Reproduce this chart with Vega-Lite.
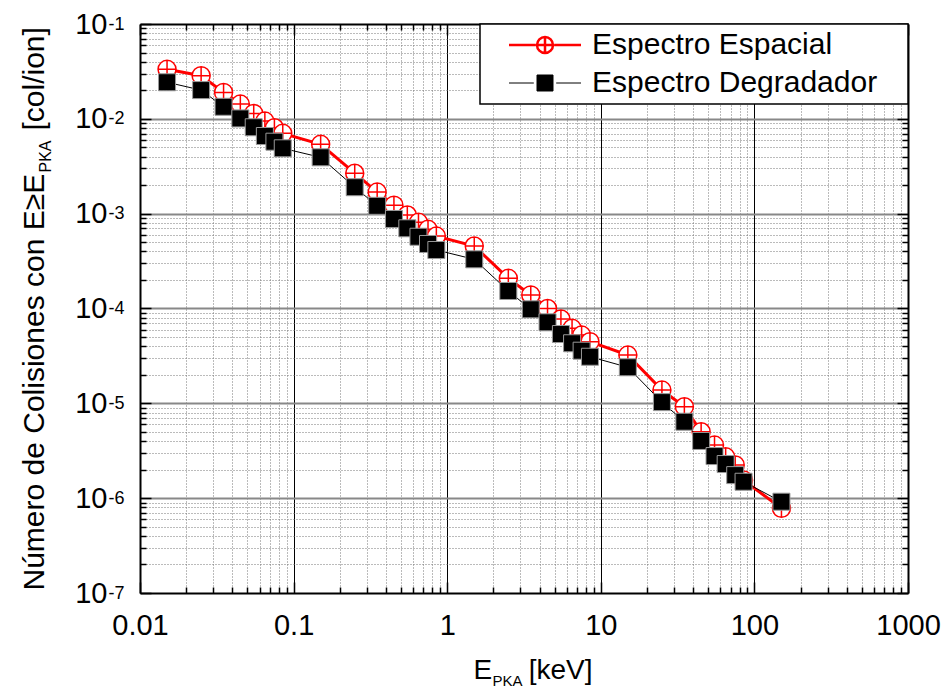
{
  "$schema": "https://vega.github.io/schema/vega-lite/v6.json",
  "width": 768,
  "height": 569,
  "autosize": {"type": "none"},
  "padding": {"left": 140, "top": 24, "right": 38, "bottom": 102},
  "background": "white",
  "config": {
    "font": "Liberation Sans",
    "view": {"stroke": null},
    "axis": {"titleFontWeight": "normal", "labelColor": "black", "titleColor": "black", "labelFont": "Liberation Sans", "titleFont": "Liberation Sans"}
  },
  "data": {
    "values": [
      {"e": 0.015, "n": 3.33e-2, "s": "Espectro Espacial"},
      {"e": 0.025, "n": 2.85e-2, "s": "Espectro Espacial"},
      {"e": 0.035, "n": 1.90e-2, "s": "Espectro Espacial"},
      {"e": 0.045, "n": 1.43e-2, "s": "Espectro Espacial"},
      {"e": 0.055, "n": 1.14e-2, "s": "Espectro Espacial"},
      {"e": 0.065, "n": 9.48e-3, "s": "Espectro Espacial"},
      {"e": 0.075, "n": 8.06e-3, "s": "Espectro Espacial"},
      {"e": 0.085, "n": 7.03e-3, "s": "Espectro Espacial"},
      {"e": 0.15, "n": 5.38e-3, "s": "Espectro Espacial"},
      {"e": 0.25, "n": 2.67e-3, "s": "Espectro Espacial"},
      {"e": 0.35, "n": 1.69e-3, "s": "Espectro Espacial"},
      {"e": 0.45, "n": 1.23e-3, "s": "Espectro Espacial"},
      {"e": 0.55, "n": 9.68e-4, "s": "Espectro Espacial"},
      {"e": 0.65, "n": 8.11e-4, "s": "Espectro Espacial"},
      {"e": 0.75, "n": 6.83e-4, "s": "Espectro Espacial"},
      {"e": 0.85, "n": 5.80e-4, "s": "Espectro Espacial"},
      {"e": 1.5, "n": 4.56e-4, "s": "Espectro Espacial"},
      {"e": 2.5, "n": 2.08e-4, "s": "Espectro Espacial"},
      {"e": 3.5, "n": 1.39e-4, "s": "Espectro Espacial"},
      {"e": 4.5, "n": 1.00e-4, "s": "Espectro Espacial"},
      {"e": 5.5, "n": 7.75e-5, "s": "Espectro Espacial"},
      {"e": 6.5, "n": 6.18e-5, "s": "Espectro Espacial"},
      {"e": 7.5, "n": 5.25e-5, "s": "Espectro Espacial"},
      {"e": 8.5, "n": 4.47e-5, "s": "Espectro Espacial"},
      {"e": 15, "n": 3.23e-5, "s": "Espectro Espacial"},
      {"e": 25, "n": 1.38e-5, "s": "Espectro Espacial"},
      {"e": 35, "n": 9.2e-6, "s": "Espectro Espacial"},
      {"e": 45, "n": 5.02e-6, "s": "Espectro Espacial"},
      {"e": 55, "n": 3.63e-6, "s": "Espectro Espacial"},
      {"e": 65, "n": 2.73e-6, "s": "Espectro Espacial"},
      {"e": 75, "n": 2.24e-6, "s": "Espectro Espacial"},
      {"e": 85, "n": 1.55e-6, "s": "Espectro Espacial"},
      {"e": 150, "n": 7.82e-7, "s": "Espectro Espacial"},
      {"e": 0.015, "n": 2.43e-2, "s": "Espectro Degradador"},
      {"e": 0.025, "n": 2.01e-2, "s": "Espectro Degradador"},
      {"e": 0.035, "n": 1.34e-2, "s": "Espectro Degradador"},
      {"e": 0.045, "n": 1.01e-2, "s": "Espectro Degradador"},
      {"e": 0.055, "n": 8.15e-3, "s": "Espectro Degradador"},
      {"e": 0.065, "n": 6.59e-3, "s": "Espectro Degradador"},
      {"e": 0.075, "n": 5.74e-3, "s": "Espectro Degradador"},
      {"e": 0.085, "n": 4.89e-3, "s": "Espectro Degradador"},
      {"e": 0.15, "n": 3.93e-3, "s": "Espectro Degradador"},
      {"e": 0.25, "n": 1.90e-3, "s": "Espectro Degradador"},
      {"e": 0.35, "n": 1.21e-3, "s": "Espectro Degradador"},
      {"e": 0.45, "n": 8.79e-4, "s": "Espectro Degradador"},
      {"e": 0.55, "n": 7.01e-4, "s": "Espectro Degradador"},
      {"e": 0.65, "n": 5.71e-4, "s": "Espectro Degradador"},
      {"e": 0.75, "n": 4.79e-4, "s": "Espectro Degradador"},
      {"e": 0.85, "n": 4.14e-4, "s": "Espectro Degradador"},
      {"e": 1.5, "n": 3.30e-4, "s": "Espectro Degradador"},
      {"e": 2.5, "n": 1.53e-4, "s": "Espectro Degradador"},
      {"e": 3.5, "n": 9.8e-5, "s": "Espectro Degradador"},
      {"e": 4.5, "n": 7.15e-5, "s": "Espectro Degradador"},
      {"e": 5.5, "n": 5.38e-5, "s": "Espectro Degradador"},
      {"e": 6.5, "n": 4.30e-5, "s": "Espectro Degradador"},
      {"e": 7.5, "n": 3.59e-5, "s": "Espectro Degradador"},
      {"e": 8.5, "n": 3.10e-5, "s": "Espectro Degradador"},
      {"e": 15, "n": 2.40e-5, "s": "Espectro Degradador"},
      {"e": 25, "n": 1.03e-5, "s": "Espectro Degradador"},
      {"e": 35, "n": 6.40e-6, "s": "Espectro Degradador"},
      {"e": 45, "n": 4.01e-6, "s": "Espectro Degradador"},
      {"e": 55, "n": 2.78e-6, "s": "Espectro Degradador"},
      {"e": 65, "n": 2.29e-6, "s": "Espectro Degradador"},
      {"e": 75, "n": 1.75e-6, "s": "Espectro Degradador"},
      {"e": 85, "n": 1.49e-6, "s": "Espectro Degradador"},
      {"e": 150, "n": 9.18e-7, "s": "Espectro Degradador"}
    ]
  },
  "resolve": {"axis": {"x": "independent", "y": "independent"}},
  "layer": [
    {
      "mark": {"type": "point", "filled": true, "opacity": 0, "size": 10},
      "encoding": {
        "x": {"field": "e", "type": "quantitative", "scale": {"type": "log", "domain": [0.01, 1000], "nice": false}, "axis": null},
        "y": {"field": "n", "type": "quantitative", "scale": {"type": "log", "domain": [1e-7, 0.1], "nice": false}, "axis": null},
        "fill": {"field": "s", "type": "nominal", "scale": {"domain": ["Espectro Espacial", "Espectro Degradador"], "range": ["white", "black"]},
          "legend": {"title": ".", "titleOrient": "right", "titleOpacity": 0, "titleFontSize": 10, "titlePadding": 22, "orient": "top-right", "offset": 0, "padding": 6, "symbolOffset": 44, "labelOffset": 32, "labelFontSize": 30, "labelFont": "Liberation Sans", "labelColor": "black", "rowPadding": 8, "symbolSize": 256, "strokeColor": "black", "fillColor": "white", "symbolOpacity": 1, "labelLimit": 500,
            "encode": {"symbols": {"update": {"strokeWidth": {"signal": "datum.value === 'Espectro Espacial' ? 2.5 : 1"}, "opacity": {"value": 1}}}, "legend": {"update": {"strokeWidth": {"value": 1.5}}}}}},
        "stroke": {"field": "s", "type": "nominal", "scale": {"domain": ["Espectro Espacial", "Espectro Degradador"], "range": ["red", "black"]}},
        "shape": {"field": "s", "type": "nominal", "scale": {"domain": ["Espectro Espacial", "Espectro Degradador"], "range": ["M-4.5,0H-1.15M1.15,0H4.5M-1,0A1,1,0,1,0,1,0A1,1,0,1,0,-1,0ZM-1,0H1M0,-1V1", "M-4.5,0H-1.4M1.4,0H4.5M-1,-1H1V1H-1Z"]}}
      }
    },
    {
      "transform": [{"filter": "datum.s === 'Espectro Espacial'"}],
      "mark": {"type": "line", "color": "red", "strokeWidth": 3},
      "encoding": {
        "x": {"field": "e", "type": "quantitative", "scale": {"type": "log", "domain": [0.01, 1000], "nice": false},
          "axis": {
            "orient": "bottom",
            "values": [0.01,0.02,0.03,0.04,0.05,0.06,0.07,0.08,0.09,0.1,0.2,0.3,0.4,0.5,0.6,0.7,0.8,0.9,1,2,3,4,5,6,7,8,9,10,20,30,40,50,60,70,80,90,100,200,300,400,500,600,700,800,900,1000],
            "tickSize": {"condition": {"test": "abs(log(datum.value)/LN10 - round(log(datum.value)/LN10)) < 0.001", "value": -11}, "value": -6},
            "tickColor": "black", "tickWidth": 1.5,
            "labelExpr": "abs(log(datum.value)/LN10 - round(log(datum.value)/LN10)) < 0.001 ? format(datum.value, '~g') : ''",
            "labelFontSize": 29, "labelPadding": 29, "labelOverlap": false, "labelFlush": false, "labelBound": false,
            "grid": true,
            "gridColor": {"condition": {"test": "abs(log(datum.value)/LN10 - round(log(datum.value)/LN10)) < 0.001", "value": "black"}, "value": "#777"},
            "gridDash": {"condition": {"test": "abs(log(datum.value)/LN10 - round(log(datum.value)/LN10)) < 0.001", "value": []}, "value": [1, 2]},
            "gridWidth": 1,
            "gridOpacity": {"condition": {"test": "datum.value < 0.0101 || datum.value > 999", "value": 0}, "value": 1},
            "domainColor": "black", "domainWidth": 2,
            "title": "E", "titleFontSize": 28, "titleX": 333, "titleY": 85, "titleAlign": "left", "titleBaseline": "alphabetic", "titleAngle": 0
          }},
        "y": {"field": "n", "type": "quantitative", "scale": {"type": "log", "domain": [1e-7, 0.1], "nice": false},
          "axis": {
            "orient": "left",
            "values": [1e-7,2e-7,3e-7,4e-7,5e-7,6e-7,7e-7,8e-7,9e-7,1e-6,2e-6,3e-6,4e-6,5e-6,6e-6,7e-6,8e-6,9e-6,1e-5,2e-5,3e-5,4e-5,5e-5,6e-5,7e-5,8e-5,9e-5,1e-4,2e-4,3e-4,4e-4,5e-4,6e-4,7e-4,8e-4,9e-4,0.001,0.002,0.003,0.004,0.005,0.006,0.007,0.008,0.009,0.01,0.02,0.03,0.04,0.05,0.06,0.07,0.08,0.09,0.1],
            "tickSize": {"condition": {"test": "abs(log(datum.value)/LN10 - round(log(datum.value)/LN10)) < 0.001", "value": -11}, "value": -6},
            "tickColor": "black", "tickWidth": 1.5,
            "labelExpr": "abs(log(datum.value)/LN10 - round(log(datum.value)/LN10)) < 0.001 ? '10' : ''",
            "labelFontSize": 29, "labelPadding": 44, "labelAlign": "right", "labelBaseline": "middle", "labelDy": 1, "labelOverlap": false, "labelFlush": false, "labelBound": false,
            "grid": true,
            "gridColor": {"condition": {"test": "abs(log(datum.value)/LN10 - round(log(datum.value)/LN10)) < 0.001", "value": "#888"}, "value": "#777"},
            "gridDash": {"condition": {"test": "abs(log(datum.value)/LN10 - round(log(datum.value)/LN10)) < 0.001", "value": []}, "value": [1, 2]},
            "gridWidth": {"condition": {"test": "abs(log(datum.value)/LN10 - round(log(datum.value)/LN10)) < 0.001", "value": 2}, "value": 1},
            "gridOpacity": {"condition": {"test": "datum.value < 1.01e-7 || datum.value > 0.099", "value": 0}, "value": 1},
            "domainColor": "black", "domainWidth": 2,
            "title": "Número de Colisiones con E≥E", "titleFontSize": 30, "titleX": -97, "titleY": 566, "titleAngle": 270, "titleAlign": "left", "titleBaseline": "alphabetic"
          }}
      }
    },
    {
      "transform": [{"filter": "datum.s === 'Espectro Espacial'"}],
      "mark": {"type": "point", "filled": true, "shape": "M-1,0A1,1,0,1,0,1,0A1,1,0,1,0,-1,0ZM-1,0H1M0,-1V1", "size": 324, "fill": "white", "stroke": "red", "strokeWidth": 1.5, "opacity": 1},
      "encoding": {
        "x": {"field": "e", "type": "quantitative", "scale": {"type": "log", "domain": [0.01, 1000], "nice": false},
          "axis": {
            "orient": "top",
            "values": [0.01,0.02,0.03,0.04,0.05,0.06,0.07,0.08,0.09,0.1,0.2,0.3,0.4,0.5,0.6,0.7,0.8,0.9,1,2,3,4,5,6,7,8,9,10,20,30,40,50,60,70,80,90,100,200,300,400,500,600,700,800,900,1000],
            "tickSize": {"condition": {"test": "abs(log(datum.value)/LN10 - round(log(datum.value)/LN10)) < 0.001", "value": -11}, "value": -6},
            "tickColor": "black", "tickWidth": 1.5,
            "labels": false, "grid": false,
            "domainColor": "black", "domainWidth": 2,
            "title": "PKA", "titleFontSize": 15, "titleX": 352, "titleY": 661, "titleAlign": "left", "titleBaseline": "alphabetic", "titleAngle": 0
          }},
        "y": {"field": "n", "type": "quantitative", "scale": {"type": "log", "domain": [1e-7, 0.1], "nice": false},
          "axis": {
            "orient": "right",
            "values": [1e-7,2e-7,3e-7,4e-7,5e-7,6e-7,7e-7,8e-7,9e-7,1e-6,2e-6,3e-6,4e-6,5e-6,6e-6,7e-6,8e-6,9e-6,1e-5,2e-5,3e-5,4e-5,5e-5,6e-5,7e-5,8e-5,9e-5,1e-4,2e-4,3e-4,4e-4,5e-4,6e-4,7e-4,8e-4,9e-4,0.001,0.002,0.003,0.004,0.005,0.006,0.007,0.008,0.009,0.01,0.02,0.03,0.04,0.05,0.06,0.07,0.08,0.09,0.1],
            "tickSize": {"condition": {"test": "abs(log(datum.value)/LN10 - round(log(datum.value)/LN10)) < 0.001", "value": -11}, "value": -6},
            "tickColor": "black", "tickWidth": 1.5,
            "labels": false, "grid": false,
            "domainColor": "black", "domainWidth": 2,
            "title": null
          }}
      }
    },
    {
      "transform": [{"filter": "datum.s === 'Espectro Degradador'"}],
      "mark": {"type": "line", "color": "black", "strokeWidth": 1},
      "encoding": {
        "x": {"field": "e", "type": "quantitative", "scale": {"type": "log", "domain": [0.01, 1000], "nice": false},
          "axis": {
            "orient": "bottom", "ticks": false, "labels": false, "grid": false, "domain": false,
            "title": "[keV]", "titleFontSize": 28, "titleX": 452, "titleY": 85, "titleAlign": "right", "titleBaseline": "alphabetic", "titleAngle": 0
          }},
        "y": {"field": "n", "type": "quantitative", "scale": {"type": "log", "domain": [1e-7, 0.1], "nice": false},
          "axis": {
            "orient": "left",
            "values": [1e-7, 1e-6, 1e-5, 1e-4, 0.001, 0.01, 0.1],
            "ticks": false, "grid": false, "domain": false,
            "labelExpr": "'' + round(log(datum.value)/LN10)",
            "labelFontSize": 18, "labelPadding": 32, "labelAlign": "left", "labelBaseline": "middle", "labelDy": -13, "labelOverlap": false, "labelFlush": false, "labelBound": false,
            "title": "PKA", "titleFontSize": 16, "titleX": -90, "titleY": 148, "titleAngle": 270, "titleAlign": "left", "titleBaseline": "alphabetic"
          }}
      }
    },
    {
      "transform": [{"filter": "datum.s === 'Espectro Degradador'"}],
      "mark": {"type": "point", "filled": true, "shape": "square", "size": 289, "fill": "black", "stroke": "#999", "strokeWidth": 1, "opacity": 1},
      "encoding": {
        "x": {"field": "e", "type": "quantitative", "scale": {"type": "log", "domain": [0.01, 1000], "nice": false}, "axis": null},
        "y": {"field": "n", "type": "quantitative", "scale": {"type": "log", "domain": [1e-7, 0.1], "nice": false},
          "axis": {
            "orient": "left", "ticks": false, "labels": false, "grid": false, "domain": false,
            "title": "[col/ion]", "titleFontSize": 30, "titleX": -97, "titleY": 106, "titleAngle": 270, "titleAlign": "left", "titleBaseline": "alphabetic"
          }}
      }
    }
  ]
}
